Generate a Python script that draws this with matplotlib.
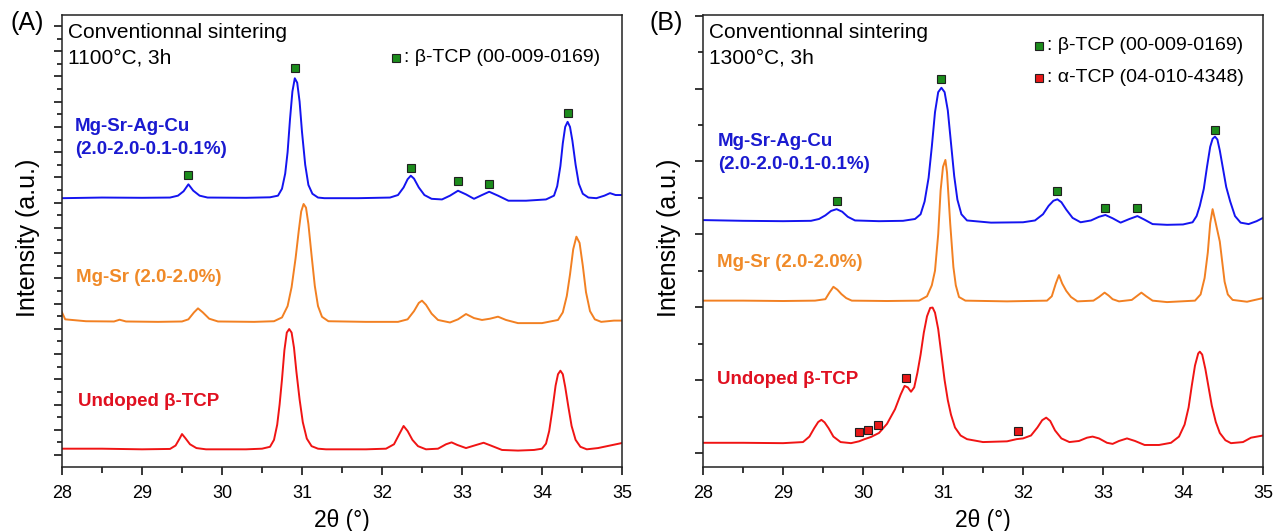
import matplotlib
matplotlib.use("Agg")
import matplotlib.pyplot as plt
from matplotlib.ticker import MultipleLocator

plt.rcParams['font.family'] = ['Liberation Sans', 'DejaVu Sans']

# ---------------- data (2theta, intensity a.u.) ----------------
a_blue = [(28.00,20.35),(28.50,20.40),(29.00,20.38),(29.35,20.40),(29.45,20.55),(29.52,20.90),(29.58,21.45),(29.64,20.95),(29.72,20.55),(29.82,20.40),(30.30,20.38),(30.60,20.42),(30.70,20.55),(30.75,21.10),(30.79,22.30),(30.82,24.00),(30.85,26.60),(30.88,28.80),(30.91,29.85),(30.94,29.50),(30.97,28.00),(31.00,25.60),(31.04,23.00),(31.08,21.40),(31.13,20.70),(31.20,20.40),(31.28,20.35),(31.70,20.35),(32.10,20.40),(32.20,20.60),(32.27,21.20),(32.32,21.85),(32.36,22.13),(32.40,21.90),(32.46,21.20),(32.53,20.60),(32.62,20.30),(32.75,20.25),(32.85,20.55),(32.95,20.94),(33.05,20.65),(33.15,20.30),(33.25,20.60),(33.34,20.86),(33.45,20.55),(33.58,20.15),(33.80,20.15),(34.05,20.25),(34.15,20.55),(34.19,21.30),(34.23,22.90),(34.26,24.70),(34.29,26.00),(34.32,26.40),(34.35,26.00),(34.38,24.90),(34.42,23.00),(34.46,21.50),(34.51,20.70),(34.58,20.40),(34.68,20.35),(34.78,20.55),(34.85,20.75),(34.92,20.60),(35.00,20.60)]

a_orange = [(28.00,11.30),(28.04,10.75),(28.30,10.60),(28.65,10.58),(28.72,10.72),(28.80,10.58),(29.20,10.55),(29.50,10.58),(29.58,10.75),(29.65,11.30),(29.70,11.62),(29.76,11.30),(29.84,10.80),(29.95,10.58),(30.40,10.55),(30.65,10.60),(30.75,10.90),(30.82,11.80),(30.87,13.30),(30.92,15.60),(30.96,17.80),(30.99,19.30),(31.02,19.89),(31.05,19.60),(31.08,18.30),(31.12,15.80),(31.16,13.40),(31.20,11.80),(31.25,10.95),(31.33,10.60),(31.80,10.55),(32.20,10.55),(32.32,10.75),(32.40,11.40),(32.46,12.05),(32.50,12.23),(32.55,11.90),(32.62,11.20),(32.70,10.70),(32.85,10.50),(32.95,10.75),(33.05,11.17),(33.15,10.85),(33.25,10.70),(33.35,10.80),(33.45,10.96),(33.55,10.70),(33.70,10.45),(34.00,10.45),(34.20,10.70),(34.26,11.30),(34.31,12.60),(34.35,14.30),(34.39,16.30),(34.43,17.30),(34.47,16.80),(34.51,15.00),(34.55,12.90),(34.60,11.40),(34.66,10.75),(34.74,10.55),(34.90,10.65),(35.00,10.65)]

a_red = [(28.00,0.50),(28.50,0.50),(29.00,0.45),(29.35,0.48),(29.42,0.75),(29.47,1.30),(29.50,1.66),(29.54,1.35),(29.60,0.85),(29.68,0.55),(29.80,0.45),(30.30,0.45),(30.50,0.50),(30.60,0.65),(30.65,1.20),(30.69,2.40),(30.72,4.00),(30.75,6.00),(30.78,8.30),(30.81,9.70),(30.84,9.98),(30.87,9.70),(30.90,8.50),(30.93,6.60),(30.97,4.40),(31.01,2.60),(31.06,1.30),(31.12,0.70),(31.20,0.50),(31.30,0.45),(31.80,0.45),(32.05,0.50),(32.15,0.85),(32.22,1.70),(32.27,2.30),(32.32,1.90),(32.38,1.20),(32.45,0.70),(32.55,0.45),(32.70,0.50),(32.80,0.85),(32.87,1.00),(32.94,0.80),(33.05,0.55),(33.18,0.80),(33.27,0.97),(33.36,0.75),(33.50,0.40),(33.70,0.35),(33.90,0.40),(34.00,0.50),(34.05,0.90),(34.09,1.90),(34.13,3.60),(34.17,5.50),(34.20,6.40),(34.23,6.68),(34.26,6.40),(34.29,5.40),(34.33,3.80),(34.37,2.30),(34.42,1.20),(34.48,0.65),(34.56,0.45),(34.70,0.55),(34.85,0.75),(35.00,0.95)]

b_blue = [(28.00,6.39),(28.50,6.37),(29.00,6.36),(29.35,6.37),(29.45,6.42),(29.53,6.52),(29.60,6.64),(29.67,6.69),(29.74,6.62),(29.81,6.48),(29.90,6.38),(30.20,6.36),(30.50,6.37),(30.65,6.42),(30.72,6.55),(30.77,6.90),(30.82,7.55),(30.86,8.40),(30.90,9.35),(30.94,9.90),(30.98,10.02),(31.02,9.90),(31.06,9.40),(31.10,8.50),(31.14,7.60),(31.18,6.95),(31.23,6.55),(31.30,6.38),(31.60,6.32),(32.00,6.33),(32.15,6.38),(32.25,6.55),(32.32,6.78),(32.38,6.92),(32.43,6.96),(32.48,6.88),(32.54,6.68),(32.62,6.45),(32.72,6.33),(32.85,6.38),(32.95,6.48),(33.03,6.53),(33.12,6.44),(33.22,6.32),(33.33,6.42),(33.43,6.50),(33.52,6.40),(33.62,6.28),(33.80,6.26),(34.00,6.27),(34.12,6.33),(34.17,6.50),(34.21,6.78),(34.26,7.25),(34.30,7.85),(34.34,8.40),(34.37,8.62),(34.40,8.68),(34.43,8.60),(34.46,8.30),(34.50,7.80),(34.54,7.30),(34.59,6.90),(34.65,6.50),(34.72,6.32),(34.82,6.28),(34.92,6.36),(35.00,6.45)]

b_orange = [(28.00,4.18),(28.50,4.18),(29.00,4.17),(29.40,4.18),(29.53,4.22),(29.58,4.40),(29.63,4.56),(29.68,4.48),(29.73,4.36),(29.79,4.25),(29.86,4.18),(30.30,4.17),(30.70,4.18),(30.80,4.30),(30.86,4.60),(30.90,5.00),(30.94,6.00),(30.97,7.20),(31.00,7.85),(31.03,8.04),(31.05,7.70),(31.07,7.00),(31.09,6.30),(31.11,5.70),(31.13,5.10),(31.16,4.60),(31.20,4.28),(31.28,4.18),(31.80,4.16),(32.30,4.18),(32.36,4.30),(32.41,4.65),(32.45,4.88),(32.49,4.65),(32.54,4.45),(32.60,4.28),(32.68,4.16),(32.88,4.18),(32.95,4.28),(33.02,4.40),(33.07,4.32),(33.12,4.22),(33.20,4.16),(33.36,4.20),(33.42,4.30),(33.48,4.40),(33.54,4.30),(33.62,4.18),(33.80,4.14),(34.15,4.18),(34.22,4.35),(34.27,4.80),(34.31,5.50),(34.34,6.30),(34.37,6.69),(34.40,6.40),(34.43,6.10),(34.46,5.80),(34.49,5.25),(34.52,4.70),(34.56,4.35),(34.62,4.20),(34.80,4.15),(35.00,4.25)]

b_red = [(28.00,0.28),(28.50,0.28),(29.00,0.27),(29.25,0.30),(29.33,0.45),(29.39,0.68),(29.44,0.85),(29.48,0.91),(29.52,0.84),(29.57,0.68),(29.63,0.45),(29.72,0.30),(29.85,0.27),(29.95,0.32),(30.02,0.38),(30.10,0.44),(30.20,0.55),(30.30,0.80),(30.40,1.20),(30.47,1.60),(30.52,1.84),(30.56,1.80),(30.60,1.68),(30.64,1.80),(30.68,2.20),(30.72,2.70),(30.76,3.30),(30.80,3.75),(30.84,3.98),(30.87,3.99),(30.90,3.85),(30.94,3.40),(30.98,2.70),(31.02,2.00),(31.06,1.45),(31.10,1.05),(31.15,0.70),(31.22,0.48),(31.30,0.38),(31.50,0.30),(31.80,0.32),(31.92,0.38),(32.00,0.40),(32.10,0.48),(32.18,0.70),(32.24,0.90),(32.29,0.97),(32.34,0.88),(32.40,0.62),(32.48,0.40),(32.58,0.30),(32.70,0.33),(32.80,0.42),(32.87,0.45),(32.95,0.40),(33.05,0.28),(33.12,0.25),(33.20,0.33),(33.30,0.40),(33.40,0.33),(33.52,0.22),(33.70,0.22),(33.85,0.28),(33.95,0.45),(34.02,0.78),(34.07,1.25),(34.11,1.85),(34.15,2.40),(34.19,2.73),(34.21,2.78),(34.24,2.70),(34.28,2.30),(34.32,1.80),(34.36,1.30),(34.41,0.85),(34.46,0.55),(34.53,0.35),(34.60,0.27),(34.75,0.30),(34.85,0.42),(35.00,0.48)]

# phase markers
a_beta_x = [29.58, 30.91, 32.36, 32.95, 33.34, 34.33]
a_beta_y = [22.21, 30.69, 22.77, 21.69, 21.47, 27.08]
b_beta_x = [29.67, 30.98, 32.43, 33.03, 33.43, 34.40]
b_beta_y = [6.91, 10.25, 7.18, 6.73, 6.71, 8.86]
b_alpha_x = [29.95, 30.06, 30.19, 30.54, 31.94]
b_alpha_y = [0.58, 0.63, 0.77, 2.07, 0.60]

x_ticks = [28, 29, 30, 31, 32, 33, 34, 35]

# ---------------- style ----------------
BLUE = '#1414f0'
ORANGE = '#f28022'
RED = '#f01414'
LBLUE = '#1a1ad0'
LORANGE = '#f08a28'
LRED = '#e01020'
GREEN = '#1c8c1c'
MRED = '#e81818'

W, H = 1274, 531
fig = plt.figure(figsize=(W / 100, H / 100), dpi=100)

def fx(px):
    return px / W

def fy(py):
    return 1 - py / H

def make_ax(left, ylim):
    ax = fig.add_axes([fx(left), fy(467), 560 / W, 452 / H])
    ax.set_xlim(28, 35)
    ax.set_ylim(*ylim)
    ax.set_xticks(x_ticks)
    ax.xaxis.set_minor_locator(MultipleLocator(0.5))
    ax.yaxis.set_major_locator(MultipleLocator(2))
    ax.yaxis.set_minor_locator(MultipleLocator(1))
    ax.tick_params(axis='x', which='major', direction='out', length=6, width=1.1,
                   labelsize=13, pad=7, top=False)
    ax.tick_params(axis='x', which='minor', direction='out', length=4, width=1.1, top=False)
    ax.tick_params(axis='y', which='major', direction='out', length=6, width=1.1,
                   labelleft=False, right=False)
    ax.tick_params(axis='y', which='minor', direction='out', length=3.5, width=1.1, right=False)
    for s in ax.spines.values():
        s.set_linewidth(1.1)
        s.set_color('#222222')
    return ax

def draw(ax, data, color):
    xs = [p[0] for p in data]
    ys = [p[1] for p in data]
    ax.plot(xs, ys, color=color, lw=1.4, solid_joinstyle='round')

def mark(ax, xs, ys, face):
    ax.plot(xs, ys, ls='none', marker='s', ms=5.2, mfc=face, mec='#202020', mew=0.8)

# ---------------- panel A ----------------
axA = make_ax(62, (-12 / 12.62, 440 / 12.62))
draw(axA, a_blue, BLUE)
draw(axA, a_orange, ORANGE)
draw(axA, a_red, RED)
mark(axA, a_beta_x, a_beta_y, GREEN)

# ---------------- panel B ----------------
axB = make_ax(703, (-14 / 36.45, 438 / 36.45))
draw(axB, b_blue, BLUE)
draw(axB, b_orange, ORANGE)
draw(axB, b_red, RED)
mark(axB, b_beta_x, b_beta_y, GREEN)
mark(axB, b_alpha_x, b_alpha_y, MRED)

# ---------------- texts ----------------
def txt(px, py, s, **kw):
    kw.setdefault('va', 'baseline')
    kw.setdefault('ha', 'left')
    fig.text(fx(px), fy(py), s, **kw)

for off, cond in [(0, "1100\u00b0C, 3h"), (641, "1300\u00b0C, 3h")]:
    txt(68 + off, 38, "Conventionnal sintering", fontsize=15)
    txt(68 + off, 64, cond, fontsize=15)
    txt(28 + off, 238, "Intensity (a.u.)", fontsize=18, rotation=90, va='center', ha='center')
    txt(342 + off, 521, "2\u03b8 (\u00b0)", fontsize=16.5, va='center', ha='center')

txt(27, 23, "(A)", fontsize=18, va='center', ha='center')
txt(666, 23, "(B)", fontsize=18, va='center', ha='center')

bold = dict(fontsize=13.5, fontweight='bold')
txt(75, 131, "Mg-Sr-Ag-Cu", color=LBLUE, **bold)
txt(75, 154, "(2.0-2.0-0.1-0.1%)", color=LBLUE, **bold)
txt(76, 282, "Mg-Sr (2.0-2.0%)", color=LORANGE, **bold)
txt(78, 406, "Undoped \u03b2-TCP", color=LRED, **bold)
txt(718, 146, "Mg-Sr-Ag-Cu", color=LBLUE, **bold)
txt(718, 169, "(2.0-2.0-0.1-0.1%)", color=LBLUE, **bold)
txt(717, 267, "Mg-Sr (2.0-2.0%)", color=LORANGE, **bold)
txt(717, 384, "Undoped \u03b2-TCP", color=LRED, **bold)

# phase legends
def legend_item(px, py, face, text):
    fig.lines.append(plt.Line2D([fx(px)], [fy(py + 1)], transform=fig.transFigure,
                                ls='none', marker='s', ms=5.2, mfc=face, mec='#202020', mew=0.8))
    txt(px + 8, py, text, fontsize=14, va='center')

legend_item(396, 57, GREEN, ": \u03b2-TCP (00-009-0169)")
legend_item(1039, 45, GREEN, ": \u03b2-TCP (00-009-0169)")
legend_item(1039, 77, MRED, ": \u03b1-TCP (04-010-4348)")

fig.savefig("out.png", dpi=100)
